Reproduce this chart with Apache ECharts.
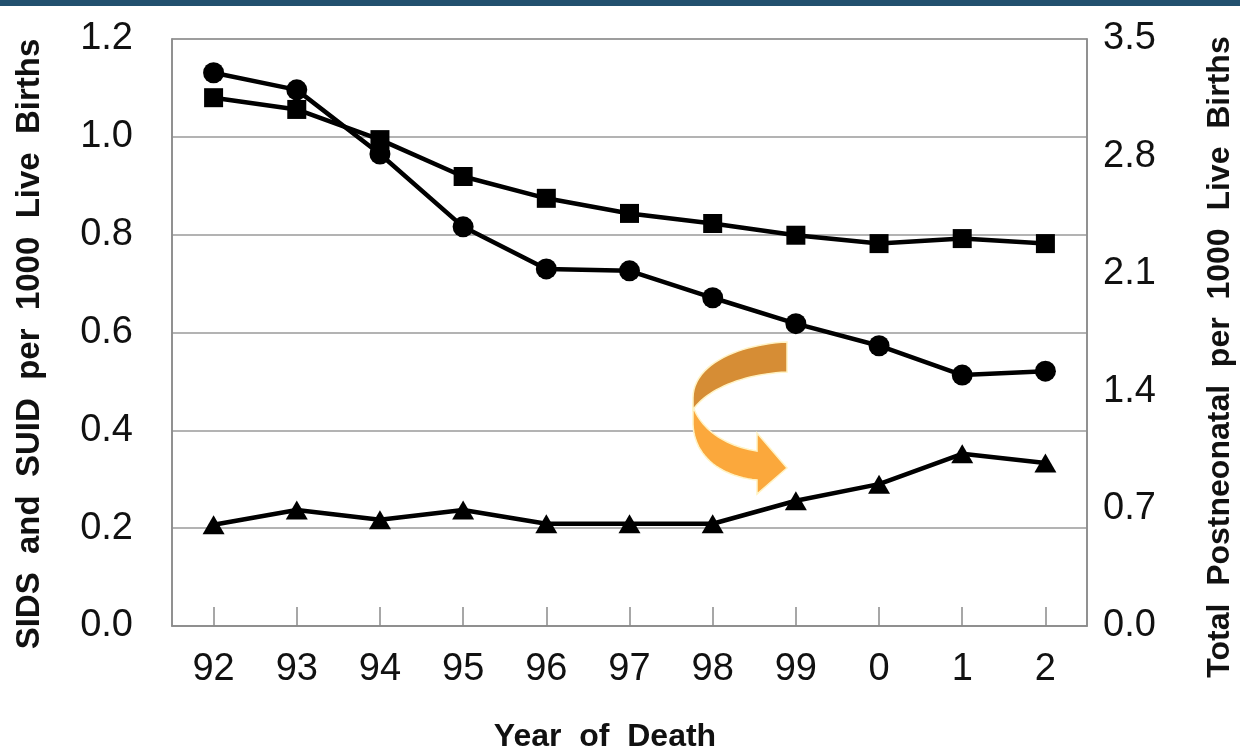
<!DOCTYPE html>
<html>
<head>
<meta charset="utf-8">
<script src="https://cdn.jsdelivr.net/npm/echarts@6/dist/echarts.min.js"></script>
<style>
html,body{margin:0;padding:0;background:#fff;}
#c{width:1240px;height:755px;}
</style>
</head>
<body>
<div id="c"></div>
<script>
const years = ['92','93','94','95','96','97','98','99','0','1','2'];
const sidsCircle = [1.131, 1.096, 0.965, 0.816, 0.730, 0.726, 0.671, 0.618, 0.573, 0.513, 0.521];
const totalPostneonatalSquare = [3.15, 3.08, 2.90, 2.68, 2.55, 2.46, 2.40, 2.33, 2.28, 2.31, 2.28];
const suidTriangle = [0.207, 0.237, 0.217, 0.237, 0.209, 0.209, 0.209, 0.256, 0.290, 0.352, 0.333];
const leftTicks = {min: 0, max: 1.2, interval: 0.2};
const rightTicks = {min: 0, max: 3.5, interval: 0.7};

const chart = echarts.init(document.getElementById('c'));
const FONT = '"Liberation Sans", Arial, sans-serif';
const gray = '#8a8a8a';

// decorative arrow outline helper: cubic bezier sampled into polygon points
function cubic(p0, p1, p2, p3, n) {
  const pts = [];
  for (let i = 0; i <= n; i++) {
    const t = i / n, u = 1 - t;
    pts.push([
      u*u*u*p0[0] + 3*u*u*t*p1[0] + 3*u*t*t*p2[0] + t*t*t*p3[0],
      u*u*u*p0[1] + 3*u*u*t*p1[1] + 3*u*t*t*p2[1] + t*t*t*p3[1]
    ]);
  }
  return pts;
}
const upperBand = [].concat(
  cubic([787,342],[742,344],[693,363],[693,398], 24),
  [[693,410]],
  cubic([693,410],[706,390],[742,374],[787,372], 24)
);
const lowerBand = [].concat(
  cubic([693,406],[700,428],[724,446],[757,451], 24),
  [[757,433],[787,468],[757,494],[757,480]],
  cubic([757,480],[718,476],[692,454],[693,420], 24)
);

const lineStyle = {color: '#000', width: 4.5};
const option = {
  animation: false,
  backgroundColor: '#fff',
  grid: {left: 172, right: 153, top: 39, bottom: 129, show: true, borderColor: gray, borderWidth: 1.5},
  xAxis: {
    type: 'category', data: years, boundaryGap: true,
    axisLine: {show: true, lineStyle: {color: gray, width: 1.5}},
    axisTick: {show: true, inside: true, length: 19, alignWithLabel: true, lineStyle: {color: gray, width: 1.5}},
    axisLabel: {color: '#111', fontFamily: FONT, fontSize: 38, margin: 25},
    splitLine: {show: false}
  },
  yAxis: [
    {
      type: 'value', min: leftTicks.min, max: leftTicks.max, interval: leftTicks.interval,
      axisLine: {show: true, lineStyle: {color: gray, width: 1.5}},
      axisTick: {show: false},
      axisLabel: {color: '#111', fontFamily: FONT, fontSize: 38, margin: 39, formatter: v => v.toFixed(1)},
      splitLine: {show: true, lineStyle: {color: '#9a9a9a', width: 1.5}}
    },
    {
      type: 'value', min: rightTicks.min, max: rightTicks.max, interval: rightTicks.interval,
      position: 'right',
      axisLine: {show: true, lineStyle: {color: gray, width: 1.5}},
      axisTick: {show: false},
      axisLabel: {color: '#111', fontFamily: FONT, fontSize: 38, margin: 16, formatter: v => v.toFixed(1)},
      splitLine: {show: false}
    }
  ],
  series: [
    {
      name: 'SIDS', type: 'line', data: sidsCircle, yAxisIndex: 0,
      symbol: 'circle', symbolSize: 21, showAllSymbol: true,
      lineStyle: lineStyle, itemStyle: {color: '#000'}, z: 3
    },
    {
      name: 'Total Postneonatal', type: 'line', data: totalPostneonatalSquare, yAxisIndex: 1,
      symbol: 'rect', symbolSize: 19, showAllSymbol: true,
      lineStyle: lineStyle, itemStyle: {color: '#000'}, z: 3
    },
    {
      name: 'SUID', type: 'line', data: suidTriangle, yAxisIndex: 0,
      symbol: 'triangle', symbolSize: [22, 19], showAllSymbol: true,
      lineStyle: lineStyle, itemStyle: {color: '#000'}, z: 3
    }
  ],
  graphic: [
    {type: 'rect', left: 0, top: 0, shape: {width: 1240, height: 6}, style: {fill: '#22506e'}, z: 10},
    {
      type: 'text', x: 30, y: 344, rotation: Math.PI / 2,
      style: {text: 'SIDS  and  SUID  per  1000  Live  Births', fill: '#111', font: 'bold 33px ' + FONT, align: 'center', verticalAlign: 'middle'}
    },
    {
      type: 'text', x: 1220, y: 357, rotation: Math.PI / 2,
      style: {text: 'Total  Postneonatal  per  1000  Live  Births', fill: '#111', font: 'bold 32px ' + FONT, align: 'center', verticalAlign: 'middle'}
    },
    {
      type: 'text', x: 605, y: 737,
      style: {text: 'Year  of  Death', fill: '#111', font: 'bold 32px ' + FONT, align: 'center', verticalAlign: 'middle'}
    },
    {
      type: 'polygon', z: 20,
      shape: {points: upperBand},
      style: {fill: '#d68d35', stroke: '#fff3c4', lineWidth: 1.5}
    },
    {
      type: 'polygon', z: 19,
      shape: {points: lowerBand},
      style: {fill: '#fba83c', stroke: '#fff3c4', lineWidth: 1.5}
    }
  ]
};
chart.setOption(option);
</script>
</body>
</html>
